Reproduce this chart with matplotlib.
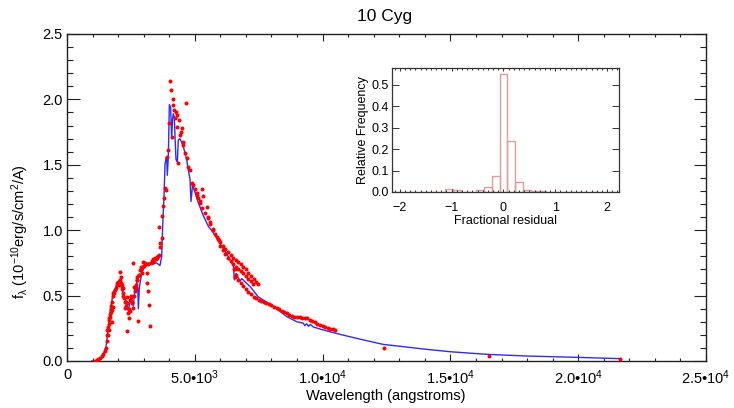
import matplotlib
matplotlib.use('Agg')
import matplotlib.pyplot as plt
from matplotlib.ticker import MultipleLocator, FixedLocator, FixedFormatter

plt.rcParams['font.family'] = ['Liberation Sans', 'DejaVu Sans']
plt.rcParams['mathtext.fontset'] = 'custom'
plt.rcParams['mathtext.rm'] = 'Liberation Sans'
plt.rcParams['mathtext.it'] = 'Liberation Sans'
plt.rcParams['mathtext.sf'] = 'Liberation Sans'

# ---------------- data ----------------
model_wl = [966, 1200, 1350, 1421, 1526, 1578, 1640, 1700, 1747, 1812, 1878, 1943, 2000, 2047,
            2099, 2178, 2269, 2334, 2399, 2465, 2530, 2595, 2660, 2725, 2770, 2791, 2830, 2921,
            3051, 3182, 3312, 3508, 3638, 3704, 3743, 3795, 3834, 3873, 3899, 3925, 3964, 4004,
            4056, 4095, 4130, 4160, 4199, 4240, 4264, 4316, 4355, 4420, 4551, 4682, 4746, 4812,
            4851, 4916, 5008, 5138, 5334, 5530, 5725, 5986, 6247, 6443, 6508, 6547, 6612, 6769,
            6834, 7160, 7486, 7812, 8203, 8594, 8985, 9246, 9300, 9377, 9450, 9520, 9637, 10027,
            10550, 11462, 12374, 14070, 14983, 16419, 17984, 19940, 21633]
model_flux = [0.0, 0.0, 0.02, 0.05, 0.11, 0.19, 0.30, 0.40, 0.45, 0.53, 0.55, 0.58, 0.60, 0.62,
              0.58, 0.53, 0.48, 0.44, 0.38, 0.45, 0.48, 0.42, 0.56, 0.60, 0.55, 0.40, 0.56, 0.67,
              0.73, 0.75, 0.74, 0.75, 0.73, 0.80, 1.03, 1.26, 1.50, 1.55, 1.56, 1.42, 1.56, 1.96,
              1.94, 1.70, 1.85, 1.89, 1.86, 1.65, 1.54, 1.52, 1.69, 1.70, 1.64, 1.54, 1.46, 1.39,
              1.22, 1.35, 1.29, 1.21, 1.11, 1.03, 0.98, 0.90, 0.82, 0.75, 0.73, 0.62, 0.67, 0.61,
              0.63, 0.57, 0.49, 0.45, 0.40, 0.34, 0.30, 0.29, 0.27, 0.285, 0.265, 0.28, 0.26, 0.237,
              0.21, 0.167, 0.127, 0.089, 0.071, 0.051, 0.038, 0.028, 0.018]

obs_wl = [1095, 1160, 1226, 1291, 1356, 1421, 1487, 1526, 1550, 1570, 1578, 1600, 1617, 1630,
          1640, 1656, 1660, 1682, 1700, 1708, 1720, 1740, 1747, 1760, 1780, 1786, 1800, 1812,
          1850, 1878, 1900, 1943, 1960, 2008, 2020, 2047, 2060, 2073, 2099, 2110, 2139, 2150,
          2178, 2200, 2204, 2230, 2250, 2269, 2290, 2308, 2334, 2334, 2360, 2399, 2420, 2438,
          2450, 2465, 2491, 2510, 2530, 2550, 2569, 2595, 2621, 2640, 2660, 2680, 2699, 2725,
          2740, 2752, 2791, 2800, 2830, 2856, 2882, 2900, 2921, 2950, 2986, 3000, 3051, 3100,
          3117, 3143, 3150, 3182, 3208, 3247, 3300, 3312, 3350, 3377, 3420, 3443, 3480, 3508,
          3540, 3573, 3599, 3600, 3638, 3650, 3704, 3730, 3769, 3795, 3834, 3873, 3899, 3964,
          4004, 4030, 4056, 4095, 4134, 4160, 4199, 4225, 4251, 4290, 4316, 4355, 4394, 4420,
          4446, 4486, 4525, 4551, 4616, 4655, 4681, 4746, 4812, 4877, 4942, 5008, 5073, 5100,
          5138, 5200, 5204, 5269, 5300, 5334, 5400, 5464, 5500, 5530, 5595, 5600, 5700, 5725,
          5800, 5856, 5900, 5960, 6000, 6100, 6200, 6300, 6400, 6500,
          6600, 6700, 6800, 6900, 7000, 7100, 7200, 7300, 7400, 7486,
          6000, 6100, 6200, 6300, 6400, 6500, 6560, 6600, 6700, 6800, 6900, 7000, 7100, 7200,
          7290,
          6520, 6560, 6600, 6700, 6800, 6900, 7000, 7100, 7200, 7300, 7400, 7500, 7600, 7700,
          7800, 7900, 8000, 8100, 8200, 8300, 8400, 8500, 8600, 8700, 8800, 8900, 9000, 9100,
          9200, 9300, 9400, 9500, 9600, 9700, 9800, 9900, 10000, 10100, 10200, 10300, 10400,
          10485, 12401, 16508, 21633]
obs_flux = [0.002, 0.005, 0.013, 0.020, 0.038, 0.053, 0.079, 0.097, 0.15, 0.20, 0.237, 0.20,
            0.262, 0.28, 0.24, 0.313, 0.33, 0.339, 0.36, 0.377, 0.40, 0.42, 0.390, 0.30, 0.45,
            0.410, 0.50, 0.517, 0.52, 0.543, 0.56, 0.581, 0.60, 0.607, 0.58, 0.594, 0.62, 0.683,
            0.645, 0.60, 0.581, 0.55, 0.556, 0.50, 0.517, 0.479, 0.45, 0.403, 0.42, 0.454, 0.492,
            0.229, 0.441, 0.365, 0.40, 0.326, 0.38, 0.466, 0.492, 0.50, 0.454, 0.44, 0.403,
            0.747, 0.568, 0.50, 0.538, 0.56, 0.581, 0.619, 0.62, 0.645, 0.308, 0.66, 0.657,
            0.696, 0.721, 0.70, 0.670, 0.72, 0.760, 0.73, 0.747, 0.74, 0.670, 0.594, 0.74,
            0.538, 0.428, 0.267, 0.75, 0.767, 0.76, 0.777, 0.77, 0.785, 0.78, 0.798, 0.79,
            0.803, 1.027, 0.811, 0.875, 0.899, 0.939, 1.105, 1.182, 1.245, 1.322, 1.309, 1.562,
            1.613, 1.818, 2.138, 2.073, 1.716, 1.956, 2.00, 1.918, 1.855, 1.905, 1.880, 1.790,
            1.511, 1.842, 1.727, 1.752, 1.779, 1.676, 1.651, 1.587, 1.969, 1.549, 1.485, 1.460,
            1.358, 1.345, 1.312, 1.282, 1.27, 1.243, 1.22, 1.205, 1.312, 1.17, 1.262, 1.13,
            1.180, 1.09, 1.103, 1.065, 1.05, 1.01, 1.001, 0.97, 0.950, 0.93, 0.924,
            0.91, 0.88, 0.855, 0.83, 0.81, 0.79,
            0.77, 0.755, 0.74, 0.72, 0.70, 0.675, 0.65, 0.625, 0.605, 0.59,
            0.88, 0.85, 0.82, 0.79, 0.765, 0.74, 0.70, 0.72, 0.70, 0.685, 0.67, 0.65, 0.63, 0.61,
            0.59,
            0.70, 0.64, 0.66, 0.62, 0.60, 0.575, 0.55, 0.53, 0.51, 0.49, 0.48, 0.47, 0.46, 0.45,
            0.445, 0.435, 0.425, 0.415, 0.405, 0.395, 0.385, 0.375, 0.365, 0.355, 0.347, 0.34,
            0.336, 0.334, 0.332, 0.33, 0.325, 0.315, 0.305, 0.295, 0.285, 0.275, 0.268, 0.262,
            0.255, 0.248, 0.242, 0.237, 0.099, 0.038, 0.013]

x_ticks = [0, 5000, 10000, 15000, 20000, 25000]
x_tick_labels = ['0', '5.0•10$^{3}$', '1.0•10$^{4}$', '1.5•10$^{4}$', '2.0•10$^{4}$', '2.5•10$^{4}$']
y_ticks = [0.0, 0.5, 1.0, 1.5, 2.0, 2.5]
y_tick_labels = ['0.0', '0.5', '1.0', '1.5', '2.0', '2.5']

hist_centers = [-2.1, -1.95, -1.8, -1.65, -1.5, -1.35, -1.2, -1.05, -0.9, -0.75, -0.6, -0.45,
                -0.3, -0.15, 0.0, 0.15, 0.3, 0.45, 0.6, 0.75, 0.9, 1.05, 1.2, 1.35, 1.5, 1.65,
                1.8, 1.95, 2.1]
hist_freq = [0.0, 0.0, 0.0, 0.0, 0.0, 0.0, 0.0, 0.012, 0.007, 0.001, 0.002, 0.008,
             0.022, 0.075, 0.552, 0.240, 0.045, 0.010, 0.005, 0.003, 0.002, 0.002, 0.002, 0.001,
             0.001, 0.002, 0.001, 0.001, 0.0]

# ---------------- figure ----------------
W, H = 734, 408
fig = plt.figure(figsize=(W / 100, H / 100), dpi=100)

def frac(x0, y0, x1, y1):
    return [x0 / W, 1 - y1 / H, (x1 - x0) / W, (y1 - y0) / H]

ax = fig.add_axes(frac(67, 34, 706, 361))
ax.plot(model_wl, model_flux, color='#2b2bff', lw=1.0, zorder=2)
ax.plot(obs_wl, obs_flux, linestyle='none', marker='o', markersize=2.9,
        markeredgewidth=0, color='#ff0000', zorder=3)
ax.set_xlim(0, 25000)
ax.set_ylim(0, 2.5)
ax.xaxis.set_major_locator(FixedLocator(x_ticks))
ax.xaxis.set_major_formatter(FixedFormatter(x_tick_labels))
ax.xaxis.set_minor_locator(MultipleLocator(1000))
ax.yaxis.set_major_locator(FixedLocator(y_ticks))
ax.yaxis.set_major_formatter(FixedFormatter(y_tick_labels))
ax.yaxis.set_minor_locator(MultipleLocator(0.1))
ax.tick_params(which='both', direction='in', top=True, right=True, width=0.8,
               color='#222222', labelsize=10.5)
ax.tick_params(axis='x', which='major', length=4.8, pad=5)
ax.tick_params(axis='x', which='minor', length=2.4)
ax.tick_params(axis='y', which='major', length=9.0, pad=3)
ax.tick_params(axis='y', which='minor', length=4.5)
for s in ax.spines.values():
    s.set_linewidth(1.0)
    s.set_color('#222222')

fig.text(385 / W, 1 - 16 / H, '10 Cyg', ha='center', va='center', fontsize=12.5)
fig.text(386 / W, 1 - 396 / H, 'Wavelength (angstroms)', ha='center', va='center', fontsize=10.5)
fig.text(20 / W, 1 - 232 / H, 'f$_{\\lambda}$ (10$^{-10}$erg/s/cm$^{2}$/A)', ha='center',
         va='center', rotation=90, fontsize=10.5)

# ---------------- inset ----------------
ax2 = fig.add_axes(frac(392, 68, 619, 192))
ax2.bar(hist_centers, hist_freq, width=0.15, fill=False, edgecolor='#e29a9a', linewidth=1.0)
ax2.set_xlim(-2.15, 2.23)
ax2.set_ylim(0, 0.578)
ax2.xaxis.set_major_locator(FixedLocator([-2, -1, 0, 1, 2]))
ax2.xaxis.set_minor_locator(MultipleLocator(0.1))
ax2.yaxis.set_major_locator(FixedLocator([0.0, 0.1, 0.2, 0.3, 0.4, 0.5]))
ax2.yaxis.set_major_formatter(FixedFormatter(['0.0', '0.1', '0.2', '0.3', '0.4', '0.5']))
ax2.tick_params(which='both', direction='in', top=True, right=True, width=0.7,
                color='#333333', labelsize=9)
ax2.tick_params(axis='x', which='major', length=2.5, pad=7)
ax2.tick_params(axis='x', which='minor', length=1.3)
ax2.tick_params(axis='y', which='major', length=5.0, pad=2)
for s in ax2.spines.values():
    s.set_linewidth(0.9)
    s.set_color('#333333')
ax2.set_xlabel('Fractional residual', fontsize=9, labelpad=1)
ax2.set_ylabel('Relative Frequency', fontsize=9, labelpad=2)

fig.savefig('out.png', dpi=100)
